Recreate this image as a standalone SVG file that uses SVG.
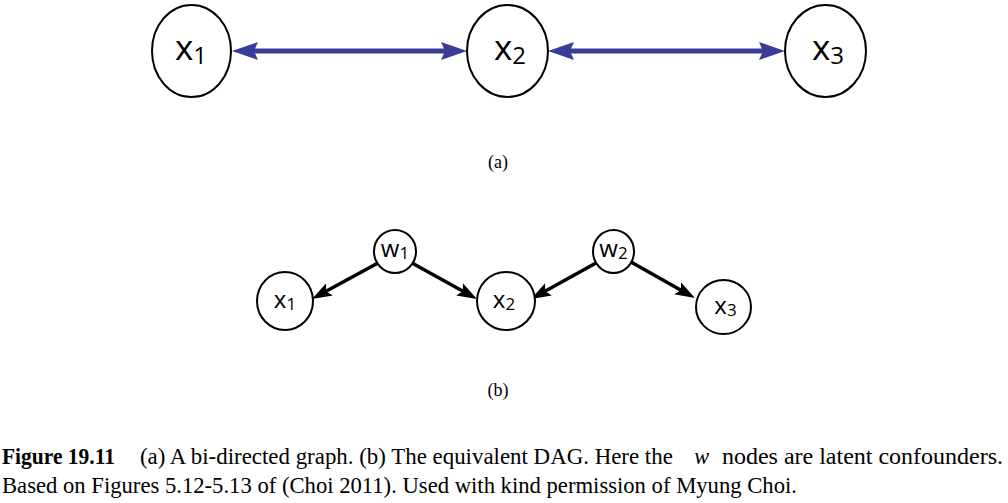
<svg xmlns="http://www.w3.org/2000/svg" width="1008" height="503" viewBox="0 0 1008 503">
<style>
.node{fill:#fff;stroke:#000;stroke-width:2}
.lbl{font-family:"Open Sans","Noto Sans",sans-serif;fill:#000;text-anchor:middle}
.big{font-size:35px}
.bigsub{font-size:24px}
.sm{font-size:24px}
.smsub{font-size:17px}
.bi{stroke:#3a3d96;stroke-width:5;fill:none}
.dir{stroke:#000;stroke-width:3.5;fill:none}
.cap{font-family:"Liberation Serif","DejaVu Serif",serif;font-size:24px;fill:#000}
.sub{font-family:"Liberation Serif","DejaVu Serif",serif;font-size:18px;fill:#000;text-anchor:middle}
</style>
<defs>
<marker id="hb" viewBox="0 0 26 18" refX="4" refY="9" markerWidth="26" markerHeight="18" markerUnits="userSpaceOnUse" orient="auto-start-reverse">
<path d="M0,0 L26,9 L0,18 L4,9 z" fill="#3a3d96"/>
</marker>
<marker id="hk" viewBox="0 0 20 14" refX="4" refY="7" markerWidth="20" markerHeight="14" markerUnits="userSpaceOnUse" orient="auto">
<path d="M0,0 L20,7 L0,14 L4,7 z" fill="#000"/>
</marker>
</defs>
<g id="connectors">
<line class="bi" x1="254" y1="51" x2="445" y2="51" marker-start="url(#hb)" marker-end="url(#hb)"/>
<line class="bi" x1="570" y1="51" x2="763" y2="51" marker-start="url(#hb)" marker-end="url(#hb)"/>
<line class="dir" x1="378" y1="263" x2="326" y2="291.3" marker-end="url(#hk)"/>
<line class="dir" x1="412" y1="263" x2="463" y2="291.2" marker-end="url(#hk)"/>
<line class="dir" x1="596" y1="263" x2="545" y2="291.2" marker-end="url(#hk)"/>
<line class="dir" x1="631" y1="262" x2="681" y2="290.2" marker-end="url(#hk)"/>
</g>
<g id="a_x1">
<ellipse class="node" cx="191.5" cy="51" rx="39.5" ry="46"/>
<text class="lbl big" x="191" y="60">x<tspan class="bigsub" dy="3.5">1</tspan></text>
</g>
<g id="a_x2">
<ellipse class="node" cx="507.5" cy="51" rx="40.5" ry="46"/>
<text class="lbl big" x="510" y="60">x<tspan class="bigsub" dy="3.5">2</tspan></text>
</g>
<g id="a_x3">
<ellipse class="node" cx="825.5" cy="51" rx="40.5" ry="46"/>
<text class="lbl big" x="828" y="60">x<tspan class="bigsub" dy="3.5">3</tspan></text>
</g>
<g id="b_w1">
<ellipse class="node" cx="395" cy="251.5" rx="21" ry="21.5"/>
<text class="lbl sm" x="395" y="257">w<tspan class="smsub" dy="1.5">1</tspan></text>
</g>
<g id="b_w2">
<ellipse class="node" cx="613.5" cy="251.5" rx="20.5" ry="21.5"/>
<text class="lbl sm" x="613.5" y="257">w<tspan class="smsub" dy="1.5">2</tspan></text>
</g>
<g id="b_x1">
<ellipse class="node" cx="285" cy="301" rx="28" ry="29"/>
<text class="lbl sm" x="285" y="308">x<tspan class="smsub" dy="2">1</tspan></text>
</g>
<g id="b_x2">
<ellipse class="node" cx="506" cy="301" rx="29" ry="29"/>
<text class="lbl sm" x="504" y="308">x<tspan class="smsub" dy="2">2</tspan></text>
</g>
<g id="b_x3">
<ellipse class="node" cx="723.5" cy="307" rx="27.5" ry="27"/>
<text class="lbl sm" x="725.5" y="313.5">x<tspan class="smsub" dy="2">3</tspan></text>
</g>
<text class="sub" x="498" y="168">(a)</text>
<text class="sub" x="498" y="396">(b)</text>
<g id="caption" transform="scale(0.93,1)">
<text class="cap" x="2.15" y="464" font-weight="bold" textLength="121.5" lengthAdjust="spacingAndGlyphs">Figure 19.11</text>
<text class="cap" x="150.5" y="464" textLength="573" lengthAdjust="spacingAndGlyphs">(a) A bi-directed graph. (b) The equivalent DAG. Here the</text>
<text class="cap" x="746.5" y="464" font-style="italic">w</text>
<text class="cap" x="776.3" y="464" textLength="302.2" lengthAdjust="spacingAndGlyphs">nodes are latent confounders.</text>
<text class="cap" x="2.15" y="493" textLength="854.8" lengthAdjust="spacingAndGlyphs">Based on Figures 5.12-5.13 of (Choi 2011). Used with kind permission of Myung Choi.</text>
</g>
</svg>
